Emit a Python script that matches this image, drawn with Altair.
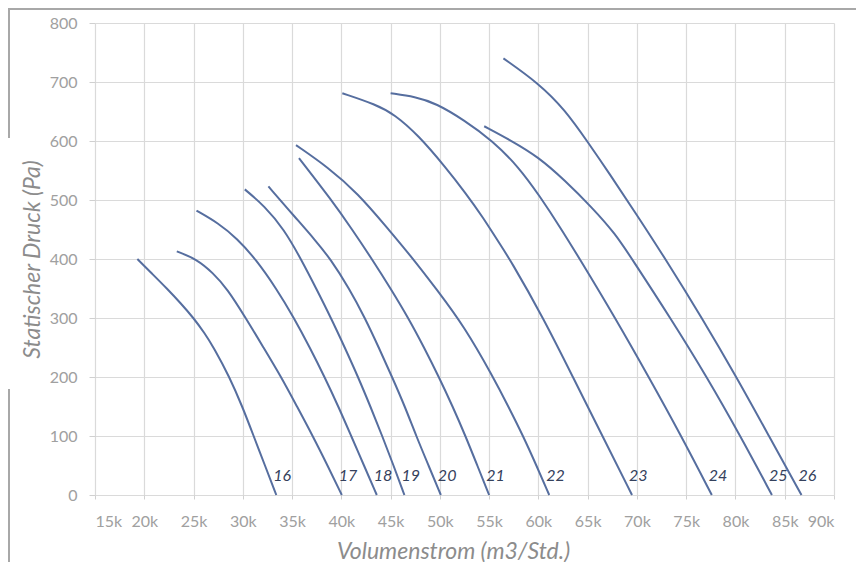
import altair as alt
import pandas as pd

# ---- data (flow in m3/h, pressure in Pa) ----
curve_names = ["16", "17", "18", "19", "20", "21", "22", "23", "24", "25", "26"]

flow_16 = [19300, 20800, 22300, 23700, 25000, 26100, 27050, 28650, 29950, 31100, 32250, 33400]
pres_16 = [400, 375, 350, 325, 300, 275, 250, 200, 150, 100, 50, 0]

flow_17 = [23300, 25300, 27000, 28400, 30300, 32100, 33900, 35500, 37100, 38600, 40050]
pres_17 = [413, 400, 376, 350, 300, 250, 200, 150, 100, 50, 0]

flow_18 = [25300, 27500, 29400, 31300, 33400, 35200, 36800, 38300, 39700, 41000, 42300, 43600]
pres_18 = [482, 461, 435, 400, 350, 300, 250, 200, 150, 100, 50, 0]

flow_19 = [30200, 32200, 34200, 35900, 37450, 38950, 40350, 41700, 42950, 44150, 45300, 46400]
pres_19 = [518, 490, 450, 400, 350, 300, 250, 200, 150, 100, 50, 0]

flow_20 = [32600, 35300, 37300, 38900, 40800, 42400, 43800, 45150, 46450, 47600, 48850, 50100]
pres_20 = [523, 471, 433, 400, 350, 300, 250, 200, 150, 100, 50, 0]

flow_21 = [35700, 39000, 41100, 43100, 45000, 46800, 48400, 49900, 51300, 52600, 53800, 55000]
pres_21 = [571, 500, 450, 400, 350, 300, 250, 200, 150, 100, 50, 0]

flow_22 = [35400, 38600, 41700, 44600, 47300, 49600, 52500, 55400, 56950, 58450, 59800, 61100]
pres_22 = [593, 556, 511, 454, 400, 350, 285, 200, 150, 100, 50, 0]

flow_23 = [40100, 43500, 45400, 47800, 50600, 52600, 54400, 55900, 57100, 60500, 63500, 66500, 69500]
pres_23 = [681, 662, 645, 610, 555, 512, 470, 430, 400, 300, 200, 100, 0]

flow_24 = [45000, 47500, 49600, 52500, 55300, 58000, 60200, 62200, 64200, 67800, 71200, 74500, 77600]
pres_24 = [681, 675, 664, 635, 601, 556, 505, 454, 400, 300, 200, 100, 0]

flow_25 = [54500, 57200, 60000, 62700, 65400, 67800, 69500, 73400, 77100, 80500, 83700]
pres_25 = [625, 601, 573, 533, 488, 443, 400, 300, 200, 100, 0]

flow_26 = [56450, 60000, 62700, 65100, 67200, 69900, 72900, 76600, 80100, 83400, 86700]
pres_26 = [740, 698, 653, 596, 545, 477, 400, 300, 200, 100, 0]

x_ticks = list(range(15000, 90001, 5000))
y_ticks = list(range(0, 801, 100))

flows = [flow_16, flow_17, flow_18, flow_19, flow_20, flow_21,
         flow_22, flow_23, flow_24, flow_25, flow_26]
pressures = [pres_16, pres_17, pres_18, pres_19, pres_20, pres_21,
             pres_22, pres_23, pres_24, pres_25, pres_26]

rows = []
for name, fl, pr in zip(curve_names, flows, pressures):
    for f, p in zip(fl, pr):
        rows.append({"curve": name, "flow": f, "pressure": p})
df = pd.DataFrame(rows)

labels = pd.DataFrame({"curve": curve_names, "flow": [fl[-1] for fl in flows]})

LINE = "#566e9f"
FONT = "Lato"

x_enc = alt.X(
    "flow:Q",
    scale=alt.Scale(domain=[15000, 90000], nice=False, zero=False),
    axis=alt.Axis(
        values=x_ticks,
        labelExpr="datum.value / 1000 + 'k'",
        title="Volumenstrom (m3/Std.)",
        tickSize=4,
        labelPadding=14,
        titleX=358,
        titleY=56,
        titleBaseline="middle",
    ),
)
y_enc = alt.Y(
    "pressure:Q",
    scale=alt.Scale(domain=[0, 800], nice=False),
    axis=alt.Axis(
        values=y_ticks,
        title="Statischer Druck (Pa)",
        tickSize=6,
        labelPadding=12,
        titleX=-63,
        titleY=236,
        titleAngle=270,
        titleBaseline="middle",
    ),
)

lines = alt.Chart(df).mark_line(
    color=LINE, strokeWidth=2, interpolate="basis"
).encode(
    x=x_enc,
    y=y_enc,
    detail="curve:N",
    order="flow:Q",
)

text = alt.Chart(labels).mark_text(
    align="left", baseline="middle", dx=-3, font=FONT, fontStyle="italic",
    fontSize=16, color="#35415c"
).encode(
    x="flow:Q",
    y=alt.datum(32),
    text="curve:N",
)

frame_src = pd.DataFrame({"k": [0]})
frame_top = alt.Chart(frame_src).mark_rule(color="#a8a8a8", strokeWidth=2).encode(
    x=alt.value(-87), x2=alt.value(769), y=alt.value(-14), y2=alt.value(-14)
)
frame_left_a = alt.Chart(frame_src).mark_rule(color="#a8a8a8", strokeWidth=2).encode(
    x=alt.value(-86), x2=alt.value(-86), y=alt.value(-15), y2=alt.value(115)
)
frame_left_b = alt.Chart(frame_src).mark_rule(color="#a8a8a8", strokeWidth=2).encode(
    x=alt.value(-86), x2=alt.value(-86), y=alt.value(366), y2=alt.value(539)
)

chart = alt.layer(lines, text, frame_top, frame_left_a, frame_left_b).properties(
    width=739,
    height=472,
    autosize=alt.AutoSizeParams(type="none"),
    padding={"left": 87, "top": 15, "right": 22, "bottom": 67},
    background="white",
).configure_view(
    stroke=None
).configure_axis(
    grid=True,
    gridColor="#dadada",
    gridWidth=1.2,
    domain=False,
    tickColor="#d0d0d0",
    labelFont=FONT,
    labelFontSize=16,
    labelColor="#a0a0a0",
    titleFont=FONT,
    titleFontSize=23,
    titleFontStyle="italic",
    titleFontWeight="normal",
    titleColor="#8c8c8c",
)

chart.save("out.html", embed_options={"renderer": "svg", "actions": False})
